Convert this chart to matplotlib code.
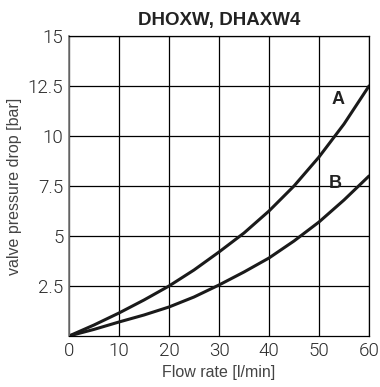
import matplotlib
matplotlib.use("Agg")
import matplotlib.pyplot as plt

# Flow rate [l/min] and pressure drop [bar]
flow = [0, 5, 10, 15, 20, 25, 30, 35, 40, 45, 50, 55, 60]
curve_a = [0, 0.55, 1.15, 1.8, 2.5, 3.3, 4.2, 5.15, 6.25, 7.5, 8.95, 10.6, 12.5]
curve_b = [0, 0.33, 0.7, 1.05, 1.45, 1.95, 2.55, 3.2, 3.9, 4.75, 5.7, 6.8, 8.0]

x_ticks = [0, 10, 20, 30, 40, 50, 60]
y_ticks = [2.5, 5, 7.5, 10, 12.5, 15]
y_labels = ["2.5", "5", "7.5", "10", "12.5", "15"]

fig = plt.figure(figsize=(3.8, 3.87), dpi=100)
ax = fig.add_axes([0.1816, 0.1318, 0.7895, 0.7752])

ax.plot(flow, curve_a, color="#1a1a1a", lw=2.2, solid_capstyle="round")
ax.plot(flow, curve_b, color="#1a1a1a", lw=2.2, solid_capstyle="round")
ax.text(53.8, 11.8, "A", fontsize=13, fontweight="bold", family="Liberation Sans",
        ha="center", va="center", color="#222222")
ax.text(53.3, 7.6, "B", fontsize=13, fontweight="bold", family="Liberation Sans",
        ha="center", va="center", color="#222222")

ax.set_xlim(0, 60)
ax.set_ylim(0, 15)
ax.set_xticks(x_ticks)
ax.set_yticks(y_ticks)
ax.set_yticklabels(y_labels)
ax.grid(True, color="black", lw=0.9)
ax.set_axisbelow(True)
ax.tick_params(length=0, labelsize=13.5, labelcolor="#2a2a2a", pad=4)
for lab in ax.get_xticklabels() + ax.get_yticklabels():
    lab.set_family("Roboto")
    lab.set_fontweight(300)
for side in ["top", "right", "bottom"]:
    ax.spines[side].set_color("black")
    ax.spines[side].set_linewidth(0.9)
ax.spines["left"].set_color("#777777")
ax.spines["left"].set_linewidth(1.2)

ax.set_xlabel("Flow rate [l/min]", fontsize=11.5, family="Liberation Sans",
              color="#444444", labelpad=4)
ax.set_ylabel("valve pressure drop [bar]", fontsize=11.5, family="Liberation Sans",
              color="#444444", labelpad=4)
ax.set_title("DHOXW, DHAXW4", fontsize=13.5, fontweight="bold", family="Liberation Sans",
             color="#222222", pad=8)

fig.savefig("out.png", dpi=100)
